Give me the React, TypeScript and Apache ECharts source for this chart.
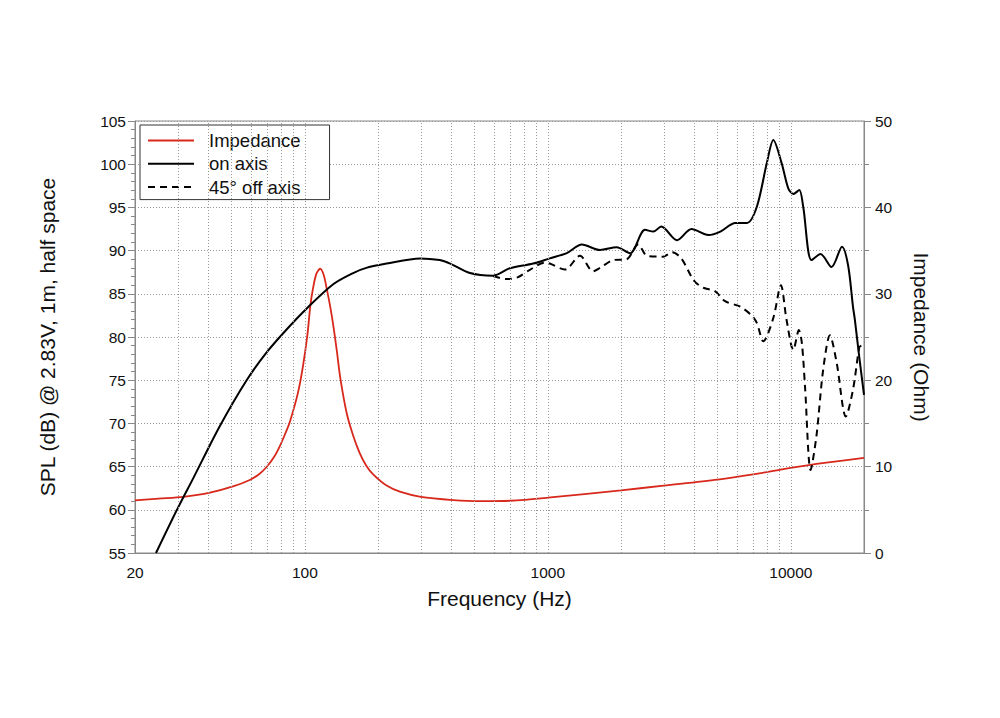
import React, { useEffect, useRef } from "react";
import * as echarts from "echarts";

// Impedance (Ohm) vs frequency (Hz)
const impFreq = [20, 25, 31.6, 40.7, 50.6, 59.3, 65, 69.6, 75, 79, 83, 86.8, 93.6, 98.2, 102.6, 105.3, 108, 111.5, 115.6, 119.5, 123, 127, 131, 135.4, 140, 148.6, 158, 168, 179, 191, 217, 246, 300, 408, 526, 700, 1000, 2000, 3000, 5000, 7000, 10000, 14000, 20000];
const impValues = [6.1, 6.3, 6.5, 6.98, 7.7, 8.45, 9.15, 9.95, 11.2, 12.4, 13.8, 15.2, 18.5, 21.6, 25.4, 28.6, 30.6, 32.3, 32.9, 32.2, 30.6, 28.6, 26.3, 23.4, 20.2, 16.2, 13.6, 11.6, 10.1, 9.1, 7.8, 7.1, 6.5, 6.13, 6.0, 6.05, 6.4, 7.25, 7.8, 8.5, 9.1, 9.85, 10.45, 11.0];

// On-axis SPL (dB)
const onFreq = [24.4, 30, 34.8, 44.7, 57.6, 70, 84.3, 101.8, 130.8, 158, 179, 217, 298, 359, 396, 478, 596, 697, 870, 1018, 1196, 1380, 1640, 1920, 2180, 2510, 2720, 2930, 3400, 3900, 4580, 5130, 5910, 6600, 7250, 7960, 8470, 9170, 9760, 10240, 10830, 11240, 12160, 13250, 14700, 16240, 17200, 18020, 18340, 19120, 20000];
const onSpl = [55, 60.2, 63.7, 69.7, 75.0, 78.3, 80.9, 83.3, 86.1, 87.4, 88.0, 88.5, 89.1, 88.9, 88.5, 87.4, 87.1, 87.95, 88.5, 89.1, 89.7, 90.7, 90.07, 90.4, 89.7, 92.4, 92.2, 92.8, 91.2, 92.5, 91.8, 92.2, 93.2, 93.2, 95.1, 100.1, 102.8, 100.1, 97.2, 96.55, 97.0, 95.1, 88.9, 89.6, 88.1, 90.45, 88.3, 83.5, 82.0, 77.7, 73.3];

// 45° off-axis SPL (dB)
const offFreq = [596, 674, 750, 840, 970, 1018, 1175, 1356, 1534, 1640, 1860, 2110, 2354, 2560, 2980, 3250, 3540, 4000, 4370, 4870, 5360, 6200, 6890, 7250, 7700, 8470, 9100, 9600, 10240, 10790, 11100, 11440, 12060, 12740, 13580, 14480, 15440, 16840, 18020, 19120, 19500];
const offSpl = [87.06, 86.7, 86.9, 87.75, 88.6, 88.5, 87.8, 89.4, 87.6, 88.0, 88.9, 89.0, 90.7, 89.4, 89.3, 89.8, 89.1, 86.5, 85.7, 85.3, 84.15, 83.5, 82.5, 81.6, 79.5, 82.2, 86.0, 82.0, 78.5, 80.8, 79.3, 74.2, 64.6, 68.5, 76.2, 80.2, 77.0, 70.8, 73.9, 78.8, 79.0];

// Vertical grid lines (Hz) and bottom tick labels
const gridFreqs = [30, 40, 50, 60, 70, 80, 90, 100, 200, 300, 400, 500, 600, 700, 800, 900, 1000, 2000, 3000, 4000, 5000, 6000, 7000, 8000, 9000, 10000];
const xTickLabels = [20, 100, 1000, 10000];

const FONT = "'Liberation Sans', Arial, Helvetica, sans-serif";

const zip = (a: number[], b: number[]) => a.map((v, i) => [v, b[i]]);

export default function App() {
  const ref = useRef<HTMLDivElement>(null);
  useEffect(() => {
    const chart = echarts.init(ref.current!, null, { renderer: "svg" });
    const axisGray = "#888";
    chart.setOption({
      animation: false,
      backgroundColor: "#fff",
      textStyle: { fontFamily: FONT },
      grid: { left: 135, right: 136, top: 121, bottom: 165, show: true, borderColor: axisGray, borderWidth: 1 },
      legend: {
        left: 140,
        top: 125,
        orient: "vertical",
        backgroundColor: "#fff",
        borderColor: "#333",
        borderWidth: 1,
        borderRadius: 0,
        padding: [6, 29, 3, 7],
        itemWidth: 46,
        itemHeight: 14,
        itemGap: 4.3,
        itemStyle: { opacity: 0 },
        textStyle: { fontSize: 18.5, lineHeight: 18, color: "#111", fontFamily: FONT, padding: [0, 0, 0, 10] },
        data: ["Impedance", "on axis", "45° off axis"],
      },
      xAxis: {
        type: "log",
        logBase: 10,
        min: 20,
        max: 20000,
        name: "Frequency (Hz)",
        nameLocation: "middle",
        nameGap: 35,
        nameTextStyle: { fontSize: 21, color: "#111", fontFamily: FONT },
        axisLine: { show: true, lineStyle: { color: axisGray, width: 1 } },
        axisTick: { show: false },
        splitLine: { show: false },
        minorTick: { show: false },
        axisLabel: {
          fontSize: 15.5,
          color: "#111",
          margin: 11,
          showMinLabel: true,
          showMaxLabel: false,
          formatter: (v: number) => {
            const r = Math.round(v);
            return xTickLabels.includes(r) ? String(r) : "";
          },
        },
      },
      yAxis: [
        {
          type: "value",
          min: 55,
          max: 105,
          interval: 5,
          name: "SPL (dB) @ 2.83V, 1m, half space",
          nameLocation: "middle",
          nameGap: 77,
          nameTextStyle: { fontSize: 21, color: "#111", fontFamily: FONT },
          axisLine: { show: true, lineStyle: { color: axisGray, width: 1 } },
          axisTick: { show: true, length: 7, lineStyle: { color: axisGray } },
          minorTick: { show: true, splitNumber: 5, length: 4, lineStyle: { color: axisGray } },
          axisLabel: { fontSize: 15.5, color: "#111", margin: 9 },
          splitLine: { show: true, lineStyle: { color: "#999", type: [1, 2], width: 1 } },
        },
        {
          type: "value",
          min: 0,
          max: 50,
          interval: 10,
          position: "right",
          name: "Impedance (Ohm)",
          nameLocation: "middle",
          nameGap: 47,
          nameRotate: -90,
          nameTextStyle: { fontSize: 21, color: "#111", fontFamily: FONT },
          axisLine: { show: true, lineStyle: { color: axisGray, width: 1 } },
          axisTick: { show: true, length: 7, lineStyle: { color: axisGray } },
          minorTick: { show: true, splitNumber: 2, length: 5, lineStyle: { color: axisGray } },
          axisLabel: { fontSize: 15.5, color: "#111", margin: 11 },
          splitLine: { show: false },
        },
      ],
      series: [
        {
          name: "grid",
          type: "line",
          yAxisIndex: 0,
          data: [[20, 55]],
          symbol: "none",
          lineStyle: { opacity: 0 },
          silent: true,
          z: 1,
          markLine: {
            silent: true,
            symbol: ["none", "none"],
            label: { show: false },
            lineStyle: { color: "#999", type: [1, 2], width: 1 },
            data: gridFreqs.map((f) => ({ xAxis: f })),
          },
        },
        {
          name: "Impedance",
          type: "line",
          yAxisIndex: 1,
          data: zip(impFreq, impValues),
          symbol: "none",
          showSymbol: false,
          smooth: 0.3,
          z: 3,
          color: "#d8281c",
          lineStyle: { color: "#d8281c", width: 1.8 },
        },
        {
          name: "on axis",
          type: "line",
          yAxisIndex: 0,
          data: zip(onFreq, onSpl),
          symbol: "none",
          showSymbol: false,
          smooth: 0.3,
          z: 4,
          color: "#000",
          lineStyle: { color: "#000", width: 2 },
        },
        {
          name: "45° off axis",
          type: "line",
          yAxisIndex: 0,
          data: zip(offFreq, offSpl),
          symbol: "none",
          showSymbol: false,
          smooth: 0.3,
          z: 4,
          color: "#000",
          lineStyle: { color: "#000", width: 2, type: [7, 5] },
        },
      ],
    });
    return () => chart.dispose();
  }, []);
  return (
    <div
      ref={ref}
      style={{ position: "fixed", left: 0, top: 0, width: 1000, height: 718, background: "#fff" }}
    />
  );
}
